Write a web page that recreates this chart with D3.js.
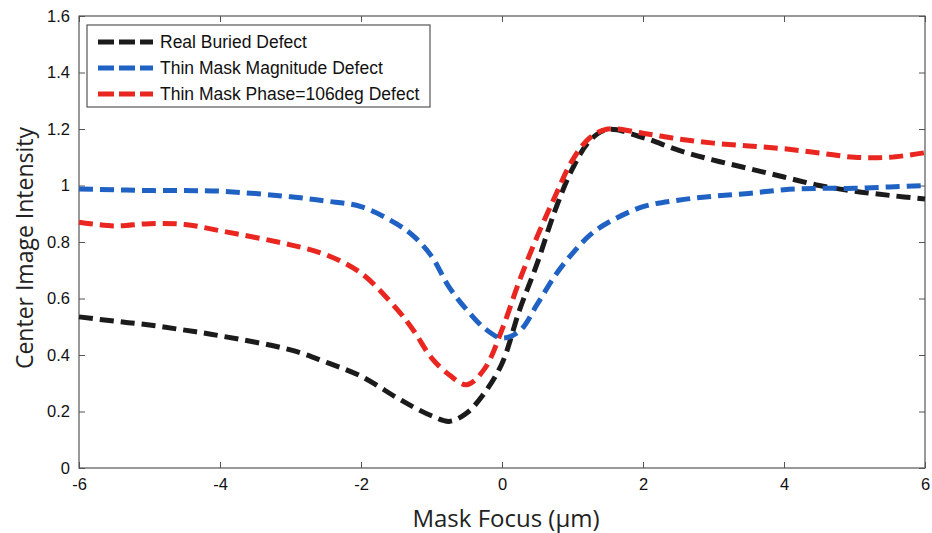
<!DOCTYPE html>
<html>
<head>
<meta charset="utf-8">
<script src="https://cdn.jsdelivr.net/npm/d3@7"></script>
<style>
  body { margin: 0; background: #fff; }
  svg { display: block; }
</style>
</head>
<body>
<svg id="chart" width="932" height="533"></svg>
<script>
// mask focus positions (um)
const focus = [-6, -5.5, -5, -4.5, -4, -3, -2.5, -2, -1.5, -1.25, -1, -0.75, -0.5, -0.25,
  0, 0.25, 0.5, 0.75, 1, 1.25, 1.5, 2, 2.5, 3, 3.5, 4, 4.5, 5, 5.5, 6];

const realBuried = [0.535, 0.52, 0.506, 0.488, 0.468, 0.418, 0.375, 0.325, 0.25, 0.215, 0.185, 0.165, 0.195, 0.265,
  0.37, 0.56, 0.725, 0.91, 1.06, 1.16, 1.198, 1.17, 1.125, 1.09, 1.06, 1.03, 1.0, 0.98, 0.965, 0.952];

const thinMagnitude = [0.988, 0.985, 0.982, 0.982, 0.98, 0.96, 0.945, 0.925, 0.865, 0.82, 0.75, 0.64, 0.56, 0.495,
  0.46, 0.485, 0.58, 0.68, 0.76, 0.825, 0.868, 0.925, 0.948, 0.962, 0.972, 0.985, 0.99, 0.99, 0.995, 1.0];

const thinPhase = [0.87, 0.857, 0.865, 0.862, 0.84, 0.79, 0.755, 0.69, 0.565, 0.485, 0.39, 0.33, 0.295, 0.35,
  0.49, 0.665, 0.82, 0.96, 1.09, 1.17, 1.2, 1.185, 1.165, 1.15, 1.14, 1.13, 1.115, 1.1, 1.1, 1.116];

const seriesNames = ["Real Buried Defect", "Thin Mask Magnitude Defect", "Thin Mask Phase=106deg Defect"];
const seriesColors = ["#1b1b1b", "#1f62c4", "#e9261f"];

const xTicks = [-6, -4, -2, 0, 2, 4, 6];
const yTicks = [0, 0.2, 0.4, 0.6, 0.8, 1, 1.2, 1.4, 1.6];

const margin = { top: 16, right: 7, bottom: 65, left: 79 };
const width = 932 - margin.left - margin.right;
const height = 533 - margin.top - margin.bottom;

const svg = d3.select("#chart");
const g = svg.append("g").attr("transform", `translate(${margin.left},${margin.top})`);

const x = d3.scaleLinear().domain([-6, 6]).range([0, width]);
const y = d3.scaleLinear().domain([0, 1.6]).range([height, 0]);

const tickFont = "'Liberation Sans', Arial, sans-serif";
const titleFont = "'Open Sans', Lato, sans-serif";
const axisColor = "#555";

// axes, ticks pointing inward (matlab style box)
function styleAxis(sel) {
  sel.select(".domain").remove();
  sel.selectAll(".tick line").attr("stroke", axisColor);
  sel.selectAll(".tick text").attr("fill", "#111").style("font-family", tickFont).style("font-size", "16.5px");
}

g.append("g")
  .attr("transform", `translate(0,${height})`)
  .call(d3.axisBottom(x).tickValues(xTicks).tickSize(-6).tickPadding(10).tickFormat(d => String(d)))
  .call(styleAxis);

g.append("g")
  .call(d3.axisTop(x).tickValues(xTicks).tickSize(-6).tickFormat(""))
  .call(styleAxis);

g.append("g")
  .call(d3.axisLeft(y).tickValues(yTicks).tickSize(-6).tickPadding(9).tickFormat(d => d === 0 || d === 1 ? d : d.toFixed(1)))
  .call(styleAxis);

g.append("g")
  .attr("transform", `translate(${width},0)`)
  .call(d3.axisRight(y).tickValues(yTicks).tickSize(-6).tickFormat(""))
  .call(styleAxis);

g.append("rect")
  .attr("width", width).attr("height", height)
  .attr("fill", "none").attr("stroke", axisColor).attr("stroke-width", 1.2);

// curves
const allSeries = [realBuried, thinMagnitude, thinPhase];
const line = d3.line()
  .x((d, i) => x(focus[i]))
  .y(d => y(d))
  .curve(d3.curveCatmullRom.alpha(0.5));

const drawOrder = [0, 2, 1];
drawOrder.forEach(k => {
  g.append("path")
    .datum(allSeries[k])
    .attr("fill", "none")
    .attr("stroke", seriesColors[k])
    .attr("stroke-width", 5)
    .attr("stroke-dasharray", "14,7")
    .attr("d", line);
});

// legend
const legend = g.append("g").attr("transform", "translate(8,9)");
legend.append("rect")
  .attr("width", 343).attr("height", 82)
  .attr("fill", "#fff").attr("stroke", axisColor).attr("stroke-width", 1.2);

seriesNames.forEach((name, i) => {
  const yy = 17 + i * 26;
  legend.append("line")
    .attr("x1", 11).attr("x2", 66).attr("y1", yy).attr("y2", yy)
    .attr("stroke", seriesColors[i]).attr("stroke-width", 5).attr("stroke-dasharray", "16,5");
  legend.append("text")
    .attr("x", 73).attr("y", yy + 6.3)
    .style("font-family", tickFont).style("font-size", "17.5px")
    .attr("fill", "#111")
    .text(name);
});

// axis titles
svg.append("text")
  .attr("x", margin.left + width / 2 + 4).attr("y", 527)
  .attr("text-anchor", "middle")
  .style("font-family", titleFont).style("font-size", "24px")
  .attr("fill", "#222")
  .text("Mask Focus (\u03bcm)");

svg.append("text")
  .attr("transform", `translate(33,${margin.top + height / 2 + 6}) rotate(-90)`)
  .attr("text-anchor", "middle")
  .style("font-family", titleFont).style("font-size", "23px")
  .attr("fill", "#222")
  .text("Center Image Intensity");
</script>
</body>
</html>
